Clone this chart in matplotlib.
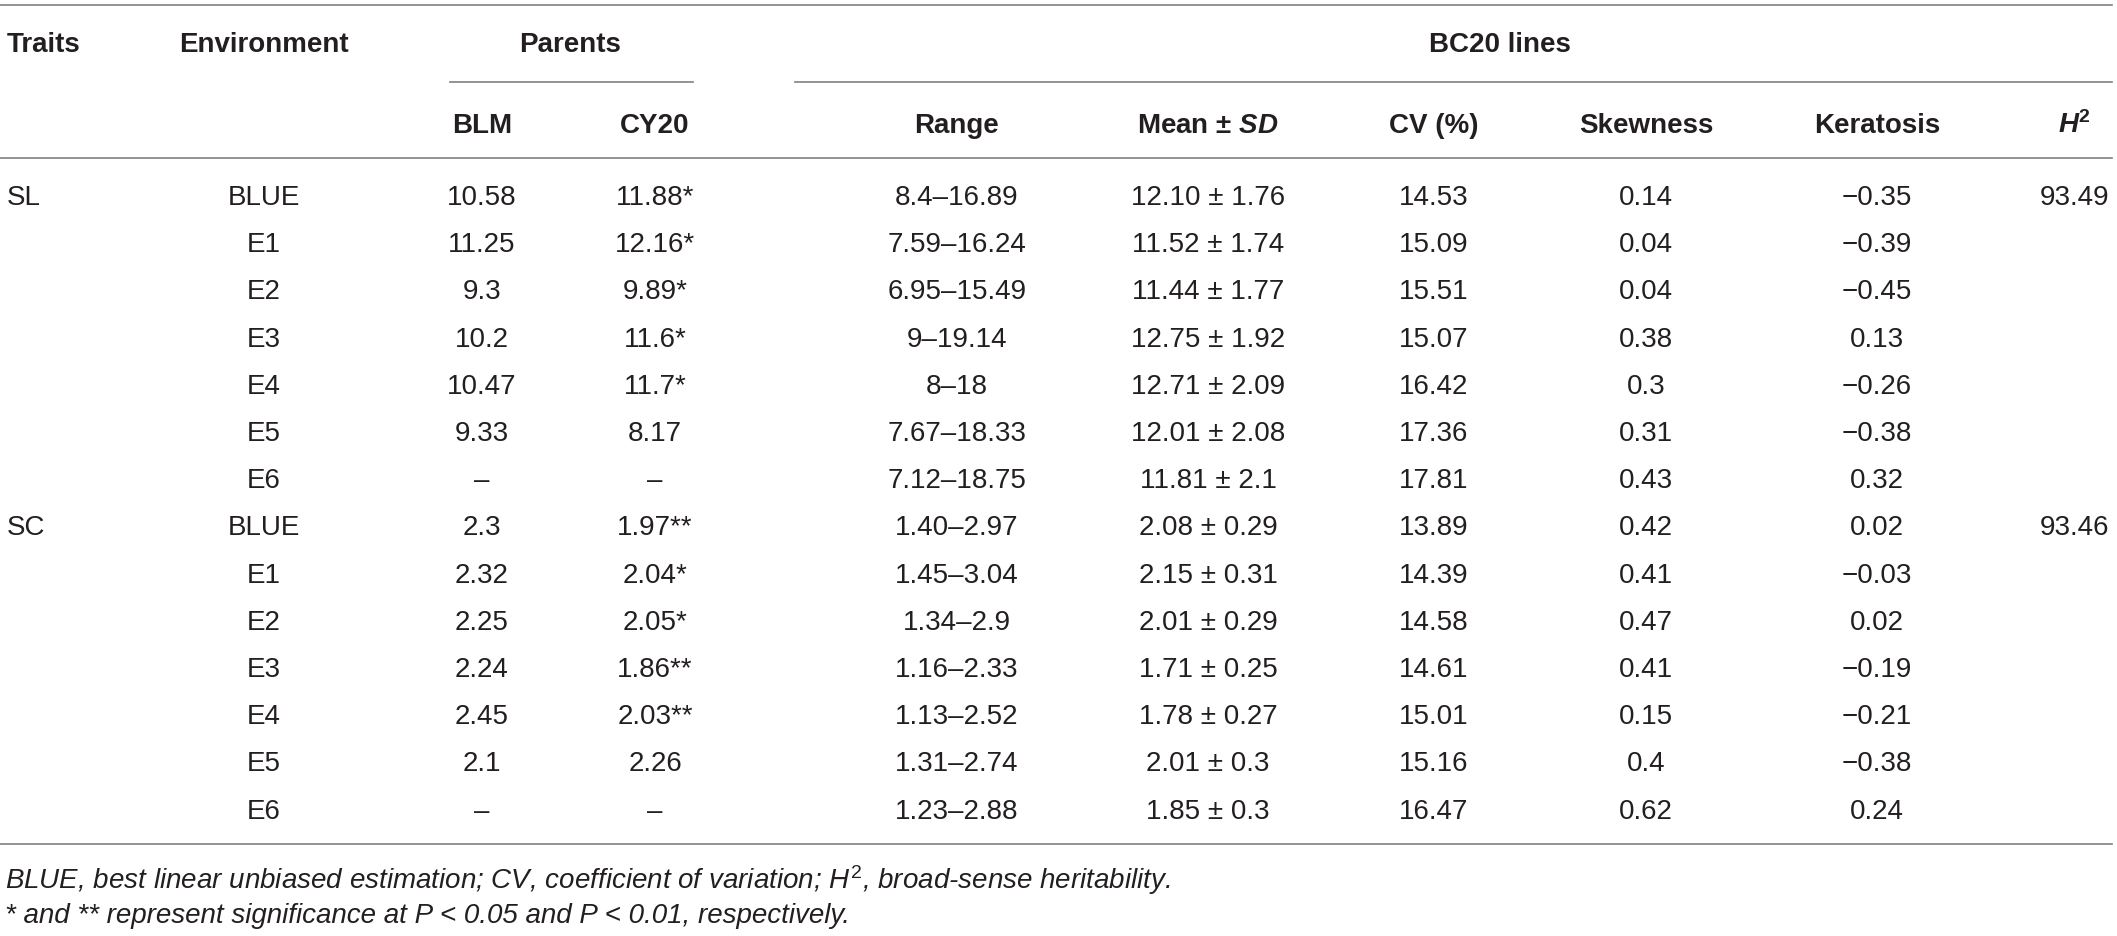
import matplotlib.pyplot as plt

plt.rcParams['font.family'] = ['Liberation Sans', 'DejaVu Sans']
plt.rcParams['mathtext.fontset'] = 'custom'
plt.rcParams['mathtext.rm'] = 'Liberation Sans'
plt.rcParams['mathtext.it'] = 'Liberation Sans:italic'
plt.rcParams['mathtext.bf'] = 'Liberation Sans:bold'
plt.rcParams['mathtext.bfit'] = 'Liberation Sans:italic:bold'

# table content
traits = ["SL", "SC"]
envs = ["BLUE", "E1", "E2", "E3", "E4", "E5", "E6"]
blm = ["10.58", "11.25", "9.3", "10.2", "10.47", "9.33", "\u2013",
       "2.3", "2.32", "2.25", "2.24", "2.45", "2.1", "\u2013"]
cy20 = ["11.88*", "12.16*", "9.89*", "11.6*", "11.7*", "8.17", "\u2013",
        "1.97**", "2.04*", "2.05*", "1.86**", "2.03**", "2.26", "\u2013"]
ranges = ["8.4\u201316.89", "7.59\u201316.24", "6.95\u201315.49", "9\u201319.14",
          "8\u201318", "7.67\u201318.33", "7.12\u201318.75",
          "1.40\u20132.97", "1.45\u20133.04", "1.34\u20132.9", "1.16\u20132.33",
          "1.13\u20132.52", "1.31\u20132.74", "1.23\u20132.88"]
means = ["12.10 \u00b1 1.76", "11.52 \u00b1 1.74", "11.44 \u00b1 1.77", "12.75 \u00b1 1.92",
         "12.71 \u00b1 2.09", "12.01 \u00b1 2.08", "11.81 \u00b1 2.1",
         "2.08 \u00b1 0.29", "2.15 \u00b1 0.31", "2.01 \u00b1 0.29", "1.71 \u00b1 0.25",
         "1.78 \u00b1 0.27", "2.01 \u00b1 0.3", "1.85 \u00b1 0.3"]
cv = ["14.53", "15.09", "15.51", "15.07", "16.42", "17.36", "17.81",
      "13.89", "14.39", "14.58", "14.61", "15.01", "15.16", "16.47"]
skew = ["0.14", "0.04", "0.04", "0.38", "0.3", "0.31", "0.43",
        "0.42", "0.41", "0.47", "0.41", "0.15", "0.4", "0.62"]
kera = ["\u22120.35", "\u22120.39", "\u22120.45", "0.13", "\u22120.26", "\u22120.38", "0.32",
        "0.02", "\u22120.03", "0.02", "\u22120.19", "\u22120.21", "\u22120.38", "0.24"]
h2 = ["93.49", "93.46"]

headers = ["BLM", "CY20", "Range", "Mean \u00b1 $\\mathbfit{SD}$", "CV (%)", "Skewness", "Keratosis"]
footnotes = [
    "BLUE, best linear unbiased estimation; CV, coefficient of variation; $\\mathit{H}^{2}$, broad-sense heritability.",
    "* and ** represent significance at P < 0.05 and P < 0.01, respectively.",
]

W, H = 2117, 936
fig = plt.figure(figsize=(W / 100, H / 100), dpi=100)
ax = fig.add_axes([0, 0, 1, 1])
ax.set_xlim(0, W)
ax.set_ylim(H, 0)
ax.axis('off')

txt = '#231f20'
rule = '#808080'
fs = 20

# column centres
col_x = [482, 655, 957, 1208, 1434, 1646, 1877]
env_x = 264
h2_x = 2109
row0, dy = 195, 47.2
base = 10  # baseline offset from digit centre

# rules
ax.plot([0, 2112], [5, 5], color=rule, lw=1.2)
ax.plot([450, 693], [82, 82], color=rule, lw=1.2)
ax.plot([795, 2112], [82, 82], color=rule, lw=1.2)
ax.plot([0, 2112], [158, 158], color=rule, lw=1.2)
ax.plot([0, 2112], [844, 844], color=rule, lw=1.2)

# header
hy1, hy2 = 42 + base, 123 + base
ax.text(7, hy1, "Traits", ha='left', va='baseline', fontsize=fs, fontweight='bold', color=txt)
ax.text(env_x, hy1, "Environment", ha='center', va='baseline', fontsize=fs, fontweight='bold', color=txt)
ax.text(570, hy1, "Parents", ha='center', va='baseline', fontsize=fs, fontweight='bold', color=txt)
ax.text(1500, hy1, "BC20 lines", ha='center', va='baseline', fontsize=fs, fontweight='bold', color=txt)
for x, h in zip(col_x, headers):
    ax.text(x, hy2, h, ha='center', va='baseline', fontsize=fs, fontweight='bold', color=txt)
ax.text(2090, hy2, "$\\mathbfit{H}^{\\mathbf{2}}$", ha='right', va='baseline', fontsize=fs, color=txt)

# body
cols = [blm, cy20, ranges, means, cv, skew, kera]
n_env = len(envs)
for i in range(len(blm)):
    y = row0 + i * dy + base
    if i % n_env == 0:
        ax.text(7, y, traits[i // n_env], ha='left', va='baseline', fontsize=fs, color=txt)
        ax.text(h2_x, y, h2[i // n_env], ha='right', va='baseline', fontsize=fs, color=txt)
    ax.text(env_x, y, envs[i % n_env], ha='center', va='baseline', fontsize=fs, color=txt)
    for x, c in zip(col_x, cols):
        ax.text(x, y, c[i], ha='center', va='baseline', fontsize=fs, color=txt)

# footnotes
for k, f in enumerate(footnotes):
    ax.text(5, 879 + k * 34 + base, f, ha='left', va='baseline', fontsize=fs,
            style='italic', color=txt)

fig.savefig('out.png', dpi=100, facecolor='white')
